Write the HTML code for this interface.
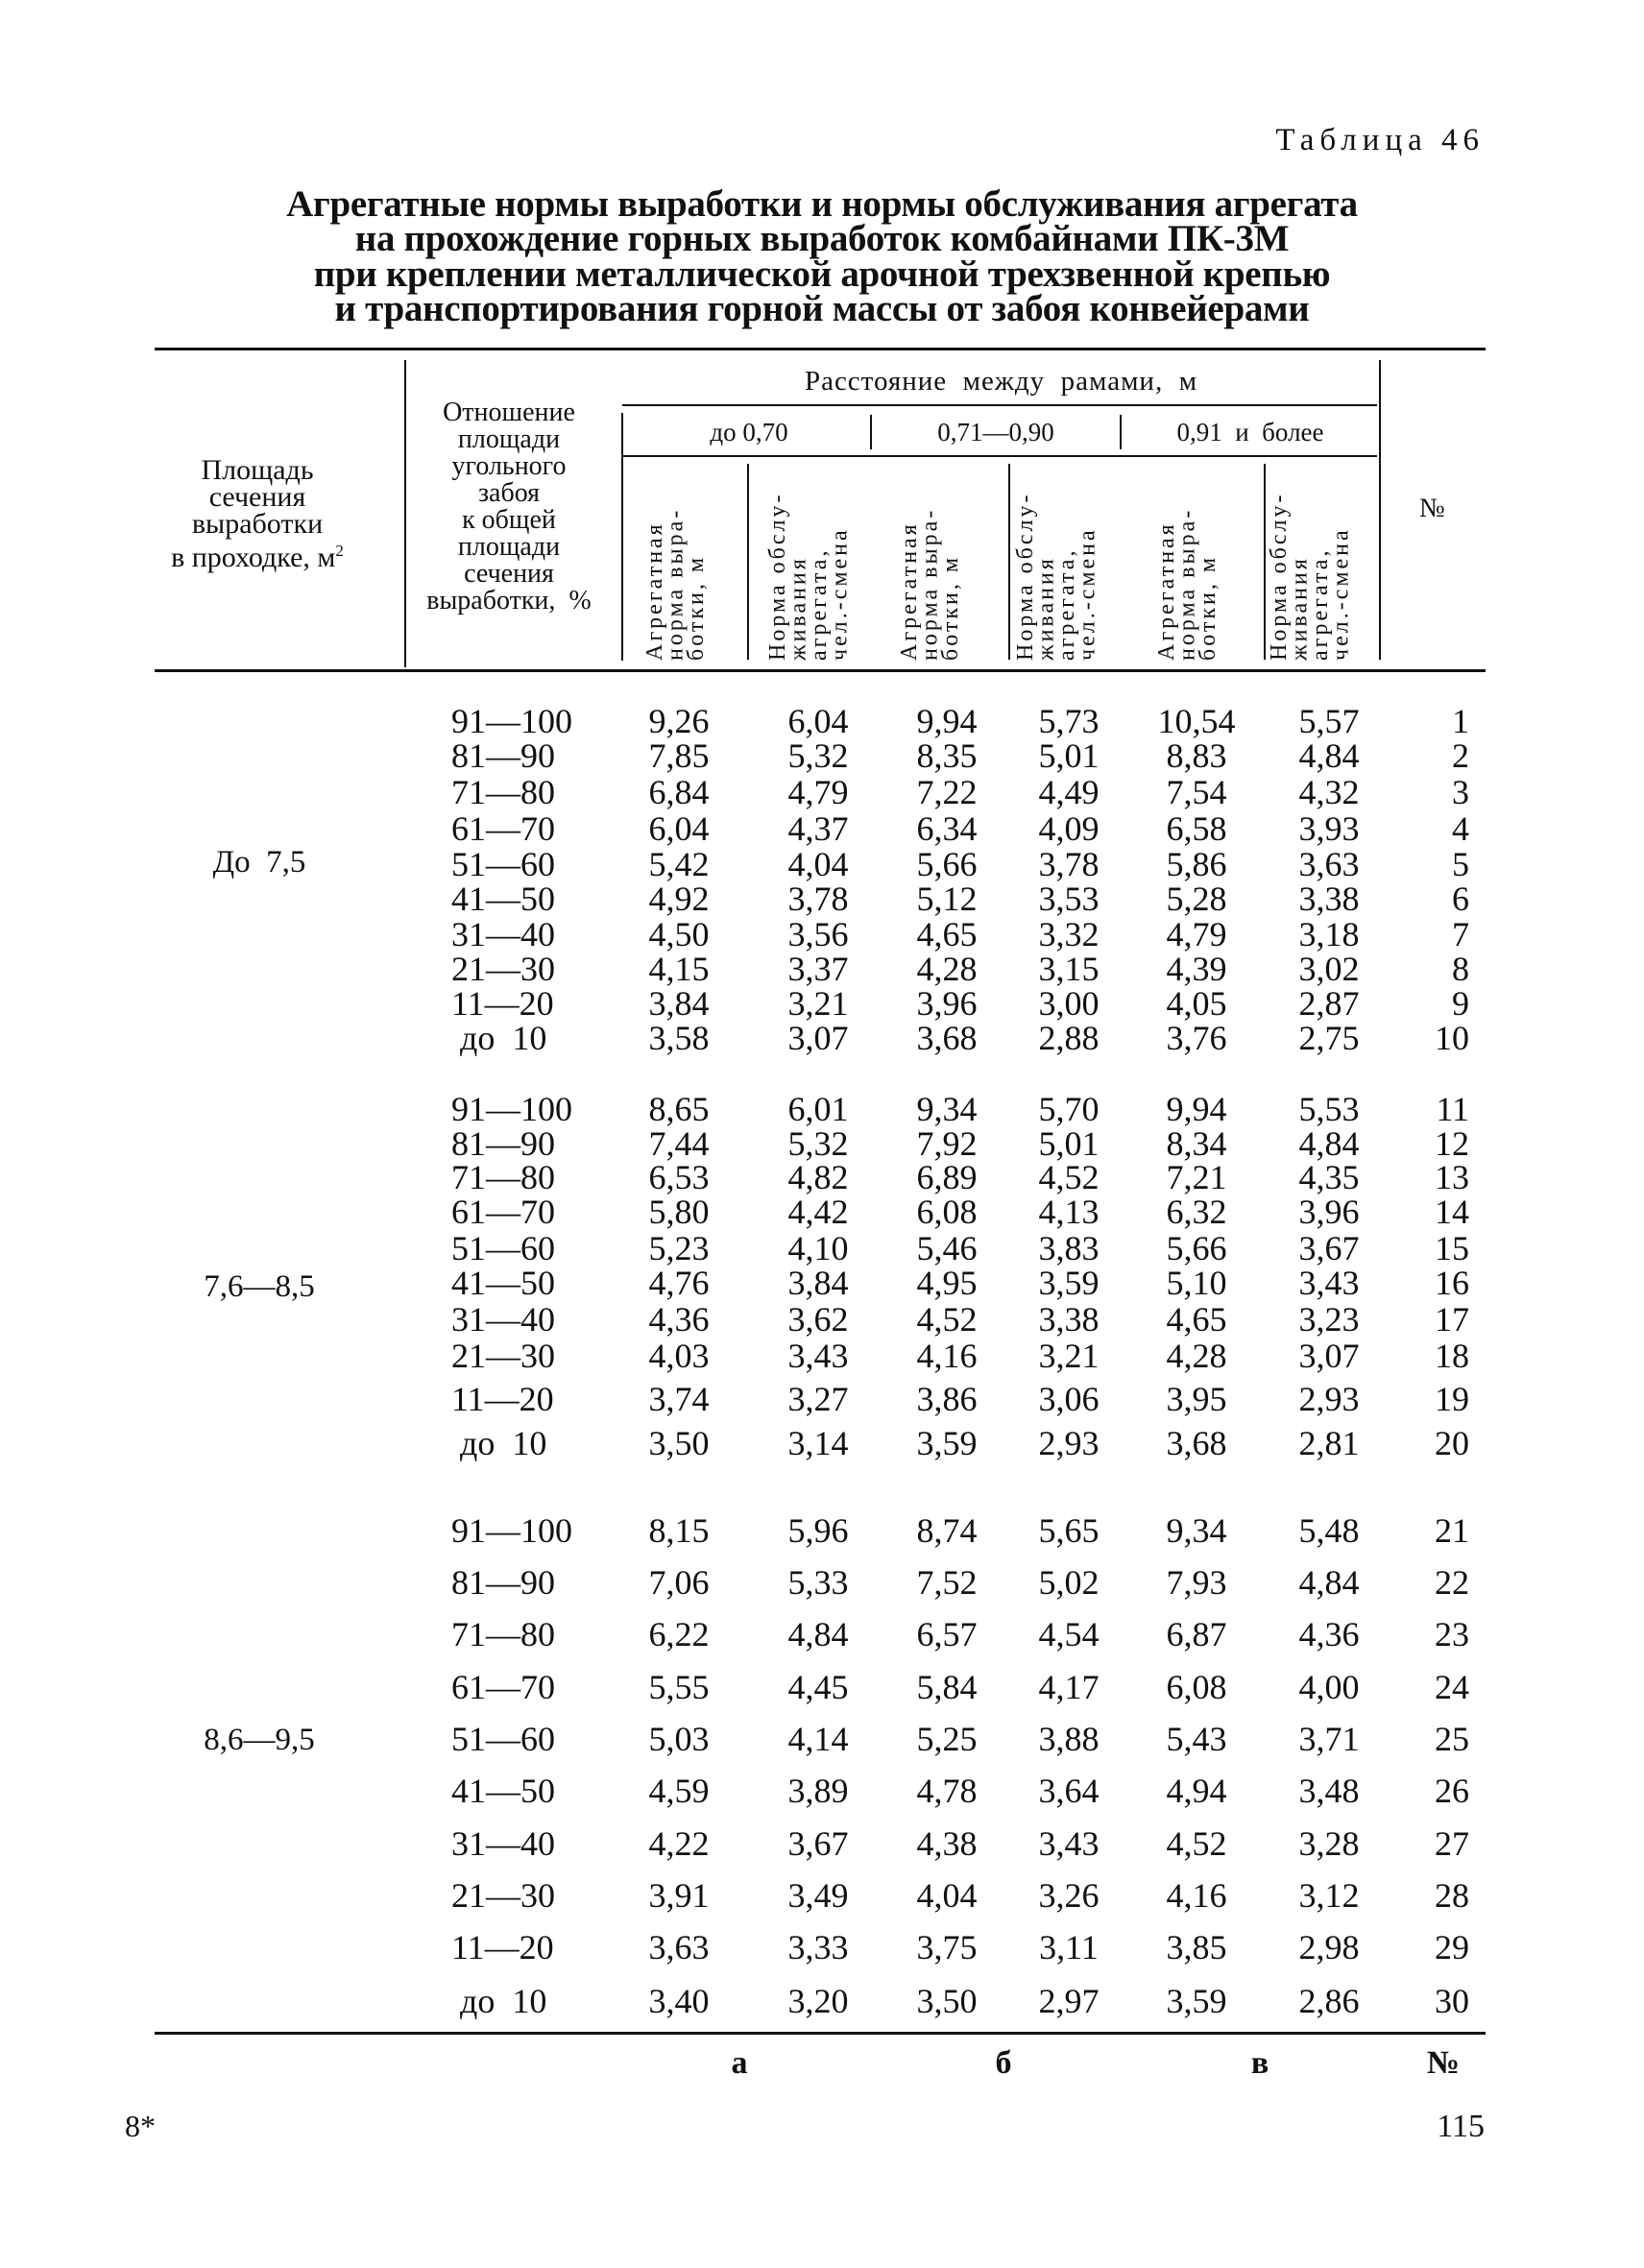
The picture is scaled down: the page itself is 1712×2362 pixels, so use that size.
<!DOCTYPE html>
<html><head><meta charset="utf-8">
<style>
*{margin:0;padding:0;box-sizing:border-box}
body{width:1712px;height:2362px;background:#fff;position:relative;overflow:hidden;font-family:"Liberation Serif","DejaVu Serif",serif;color:#111}
.a{position:absolute;white-space:nowrap}
.hl{position:absolute;background:#111}
.vl{position:absolute;background:#111}
.t{font-weight:bold;font-size:39px;left:0;width:1712px;text-align:center;letter-spacing:-0.3px}
.h{font-size:30px;text-align:center;line-height:28px}
.rot{position:absolute;writing-mode:vertical-rl;transform:rotate(180deg);font-size:24px;line-height:21.5px;letter-spacing:3px;top:478px;height:210px;text-align:left}
.r{position:absolute;left:0;width:1712px;height:44px;line-height:44px;font-size:36px}
.r span{position:absolute;text-align:center;width:140px}
.r .p{left:470px;text-align:left}
.r .c1{left:637px}.r .c2{left:782px}.r .c3{left:916px}.r .c4{left:1043px}.r .c5{left:1176px}.r .c6{left:1314px}
.r .n{left:1400px;width:130px;text-align:right}
.g{font-size:33px;left:0;width:540px;text-align:center}
</style></head><body>
<div class="a" style="right:166px;top:128px;font-size:33px;letter-spacing:6px">Таблица 46</div>
<div class="a t" style="top:190px">Агрегатные нормы выработки и нормы обслуживания агрегата</div>
<div class="a t" style="top:226px">на прохождение горных выработок комбайнами ПК-3М</div>
<div class="a t" style="top:263px">при креплении металлической арочной трехзвенной крепью</div>
<div class="a t" style="top:299px">и транспортирования горной массы от забоя конвейерами</div>

<div class="hl" style="left:161px;top:362px;width:1386px;height:3px"></div>
<div class="hl" style="left:161px;top:697px;width:1386px;height:3px"></div>
<div class="vl" style="left:421px;top:375px;width:2px;height:320px"></div>
<div class="vl" style="left:1436px;top:375px;width:2px;height:312px"></div>

<div class="a h" style="left:120px;width:296px;top:476px">Площадь<br>сечения<br>выработки<br>в проходке, м<sup style="font-size:17px">2</sup></div>
<div class="a h" style="left:425px;width:210px;top:416px;font-size:28px">Отношение<br>площади<br>угольного<br>забоя<br>к общей<br>площади<br>сечения<br>выработки, &nbsp;%</div>

<div class="a" style="left:650px;width:785px;text-align:center;top:381px;font-size:29px;letter-spacing:1px">Расстояние &nbsp;между &nbsp;рамами, &nbsp;м</div>
<div class="hl" style="left:648px;top:421px;width:786px;height:1.5px"></div>
<div class="vl" style="left:647px;top:430px;width:1.5px;height:258px"></div>
<div class="vl" style="left:906px;top:432px;width:1.5px;height:36px"></div>
<div class="vl" style="left:1166px;top:432px;width:1.5px;height:36px"></div>
<div class="a" style="left:660px;width:240px;text-align:center;top:435px;font-size:27px">до 0,70</div>
<div class="a" style="left:912px;width:250px;text-align:center;top:435px;font-size:27px">0,71—0,90</div>
<div class="a" style="left:1172px;width:260px;text-align:center;top:435px;font-size:27px">0,91 &nbsp;и &nbsp;более</div>
<div class="hl" style="left:648px;top:474px;width:786px;height:1.5px"></div>
<div class="vl" style="left:778px;top:483px;width:1.5px;height:204px"></div>
<div class="vl" style="left:1050px;top:483px;width:1.5px;height:204px"></div>
<div class="vl" style="left:1316px;top:483px;width:1.5px;height:204px"></div>

<div class="rot" style="left:672px;width:66px">Агрегатная<br>норма выра-<br>ботки, м</div>
<div class="rot" style="left:800px;width:88px">Норма обслу-<br>живания<br>агрегата,<br>чел.-смена</div>
<div class="rot" style="left:937px;width:66px">Агрегатная<br>норма выра-<br>ботки, м</div>
<div class="rot" style="left:1058px;width:88px">Норма обслу-<br>живания<br>агрегата,<br>чел.-смена</div>
<div class="rot" style="left:1205px;width:66px">Агрегатная<br>норма выра-<br>ботки, м</div>
<div class="rot" style="left:1322px;width:88px">Норма обслу-<br>живания<br>агрегата,<br>чел.-смена</div>
<div class="a" style="left:1478px;top:514px;font-size:28px">№</div>

<div class="a g" style="top:880px">До &nbsp;7,5</div>
<div class="a g" style="top:1322px">7,6—8,5</div>
<div class="a g" style="top:1794px">8,6—9,5</div>

<div class="r" style="top:729px"><span class="p">91—100</span><span class="c1">9,26</span><span class="c2">6,04</span><span class="c3">9,94</span><span class="c4">5,73</span><span class="c5">10,54</span><span class="c6">5,57</span><span class="n">1</span></div>
<div class="r" style="top:765px"><span class="p">81—90</span><span class="c1">7,85</span><span class="c2">5,32</span><span class="c3">8,35</span><span class="c4">5,01</span><span class="c5">8,83</span><span class="c6">4,84</span><span class="n">2</span></div>
<div class="r" style="top:803px"><span class="p">71—80</span><span class="c1">6,84</span><span class="c2">4,79</span><span class="c3">7,22</span><span class="c4">4,49</span><span class="c5">7,54</span><span class="c6">4,32</span><span class="n">3</span></div>
<div class="r" style="top:841px"><span class="p">61—70</span><span class="c1">6,04</span><span class="c2">4,37</span><span class="c3">6,34</span><span class="c4">4,09</span><span class="c5">6,58</span><span class="c6">3,93</span><span class="n">4</span></div>
<div class="r" style="top:878px"><span class="p">51—60</span><span class="c1">5,42</span><span class="c2">4,04</span><span class="c3">5,66</span><span class="c4">3,78</span><span class="c5">5,86</span><span class="c6">3,63</span><span class="n">5</span></div>
<div class="r" style="top:914px"><span class="p">41—50</span><span class="c1">4,92</span><span class="c2">3,78</span><span class="c3">5,12</span><span class="c4">3,53</span><span class="c5">5,28</span><span class="c6">3,38</span><span class="n">6</span></div>
<div class="r" style="top:951px"><span class="p">31—40</span><span class="c1">4,50</span><span class="c2">3,56</span><span class="c3">4,65</span><span class="c4">3,32</span><span class="c5">4,79</span><span class="c6">3,18</span><span class="n">7</span></div>
<div class="r" style="top:987px"><span class="p">21—30</span><span class="c1">4,15</span><span class="c2">3,37</span><span class="c3">4,28</span><span class="c4">3,15</span><span class="c5">4,39</span><span class="c6">3,02</span><span class="n">8</span></div>
<div class="r" style="top:1023px"><span class="p">11—20</span><span class="c1">3,84</span><span class="c2">3,21</span><span class="c3">3,96</span><span class="c4">3,00</span><span class="c5">4,05</span><span class="c6">2,87</span><span class="n">9</span></div>
<div class="r" style="top:1059px"><span class="p">&nbsp;до &nbsp;10</span><span class="c1">3,58</span><span class="c2">3,07</span><span class="c3">3,68</span><span class="c4">2,88</span><span class="c5">3,76</span><span class="c6">2,75</span><span class="n">10</span></div>

<div class="r" style="top:1133px"><span class="p">91—100</span><span class="c1">8,65</span><span class="c2">6,01</span><span class="c3">9,34</span><span class="c4">5,70</span><span class="c5">9,94</span><span class="c6">5,53</span><span class="n">11</span></div>
<div class="r" style="top:1169px"><span class="p">81—90</span><span class="c1">7,44</span><span class="c2">5,32</span><span class="c3">7,92</span><span class="c4">5,01</span><span class="c5">8,34</span><span class="c6">4,84</span><span class="n">12</span></div>
<div class="r" style="top:1204px"><span class="p">71—80</span><span class="c1">6,53</span><span class="c2">4,82</span><span class="c3">6,89</span><span class="c4">4,52</span><span class="c5">7,21</span><span class="c6">4,35</span><span class="n">13</span></div>
<div class="r" style="top:1240px"><span class="p">61—70</span><span class="c1">5,80</span><span class="c2">4,42</span><span class="c3">6,08</span><span class="c4">4,13</span><span class="c5">6,32</span><span class="c6">3,96</span><span class="n">14</span></div>
<div class="r" style="top:1278px"><span class="p">51—60</span><span class="c1">5,23</span><span class="c2">4,10</span><span class="c3">5,46</span><span class="c4">3,83</span><span class="c5">5,66</span><span class="c6">3,67</span><span class="n">15</span></div>
<div class="r" style="top:1314px"><span class="p">41—50</span><span class="c1">4,76</span><span class="c2">3,84</span><span class="c3">4,95</span><span class="c4">3,59</span><span class="c5">5,10</span><span class="c6">3,43</span><span class="n">16</span></div>
<div class="r" style="top:1352px"><span class="p">31—40</span><span class="c1">4,36</span><span class="c2">3,62</span><span class="c3">4,52</span><span class="c4">3,38</span><span class="c5">4,65</span><span class="c6">3,23</span><span class="n">17</span></div>
<div class="r" style="top:1390px"><span class="p">21—30</span><span class="c1">4,03</span><span class="c2">3,43</span><span class="c3">4,16</span><span class="c4">3,21</span><span class="c5">4,28</span><span class="c6">3,07</span><span class="n">18</span></div>
<div class="r" style="top:1435px"><span class="p">11—20</span><span class="c1">3,74</span><span class="c2">3,27</span><span class="c3">3,86</span><span class="c4">3,06</span><span class="c5">3,95</span><span class="c6">2,93</span><span class="n">19</span></div>
<div class="r" style="top:1481px"><span class="p">&nbsp;до &nbsp;10</span><span class="c1">3,50</span><span class="c2">3,14</span><span class="c3">3,59</span><span class="c4">2,93</span><span class="c5">3,68</span><span class="c6">2,81</span><span class="n">20</span></div>

<div class="r" style="top:1572px"><span class="p">91—100</span><span class="c1">8,15</span><span class="c2">5,96</span><span class="c3">8,74</span><span class="c4">5,65</span><span class="c5">9,34</span><span class="c6">5,48</span><span class="n">21</span></div>
<div class="r" style="top:1626px"><span class="p">81—90</span><span class="c1">7,06</span><span class="c2">5,33</span><span class="c3">7,52</span><span class="c4">5,02</span><span class="c5">7,93</span><span class="c6">4,84</span><span class="n">22</span></div>
<div class="r" style="top:1680px"><span class="p">71—80</span><span class="c1">6,22</span><span class="c2">4,84</span><span class="c3">6,57</span><span class="c4">4,54</span><span class="c5">6,87</span><span class="c6">4,36</span><span class="n">23</span></div>
<div class="r" style="top:1735px"><span class="p">61—70</span><span class="c1">5,55</span><span class="c2">4,45</span><span class="c3">5,84</span><span class="c4">4,17</span><span class="c5">6,08</span><span class="c6">4,00</span><span class="n">24</span></div>
<div class="r" style="top:1789px"><span class="p">51—60</span><span class="c1">5,03</span><span class="c2">4,14</span><span class="c3">5,25</span><span class="c4">3,88</span><span class="c5">5,43</span><span class="c6">3,71</span><span class="n">25</span></div>
<div class="r" style="top:1843px"><span class="p">41—50</span><span class="c1">4,59</span><span class="c2">3,89</span><span class="c3">4,78</span><span class="c4">3,64</span><span class="c5">4,94</span><span class="c6">3,48</span><span class="n">26</span></div>
<div class="r" style="top:1898px"><span class="p">31—40</span><span class="c1">4,22</span><span class="c2">3,67</span><span class="c3">4,38</span><span class="c4">3,43</span><span class="c5">4,52</span><span class="c6">3,28</span><span class="n">27</span></div>
<div class="r" style="top:1952px"><span class="p">21—30</span><span class="c1">3,91</span><span class="c2">3,49</span><span class="c3">4,04</span><span class="c4">3,26</span><span class="c5">4,16</span><span class="c6">3,12</span><span class="n">28</span></div>
<div class="r" style="top:2006px"><span class="p">11—20</span><span class="c1">3,63</span><span class="c2">3,33</span><span class="c3">3,75</span><span class="c4">3,11</span><span class="c5">3,85</span><span class="c6">2,98</span><span class="n">29</span></div>
<div class="r" style="top:2062px"><span class="p">&nbsp;до &nbsp;10</span><span class="c1">3,40</span><span class="c2">3,20</span><span class="c3">3,50</span><span class="c4">2,97</span><span class="c5">3,59</span><span class="c6">2,86</span><span class="n">30</span></div>

<div class="hl" style="left:161px;top:2116px;width:1386px;height:3px"></div>
<div class="r" style="top:2127px;font-weight:bold;font-size:34px"><span class="c1" style="left:700px">а</span><span class="c3" style="left:975px">б</span><span class="c5" style="left:1242px">в</span><span class="n" style="left:1390px">№</span></div>
<div class="a" style="left:130px;top:2196px;font-size:32px">8*</div>
<div class="a" style="right:166px;top:2196px;font-size:34px">115</div>
</body></html>
